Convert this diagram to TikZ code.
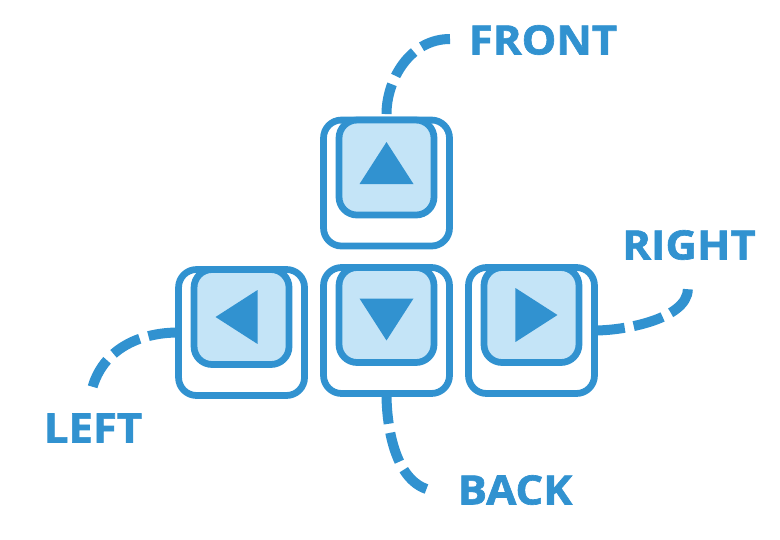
\documentclass[tikz,border=0pt]{standalone}
\usepackage{fontspec}
\newfontfamily\keyfont[FakeBold=1.6, FakeStretch=1.08]{Open Sans Bold}
\usetikzlibrary{
    positioning,
    shapes.geometric
}
\definecolor{keyblue}{RGB}{49,146,208}
\definecolor{capblue}{RGB}{196,228,247}
\tikzset{
    keybase/.style={
        rectangle,
        draw=keyblue,
        line width=0.135cm,
        rounded corners=0.36cm,
        fill=white,
        outer sep=0pt,
        minimum width=2.52cm,
        minimum height=2.52cm
    },
    keycap/.style={
        keybase,
        fill=capblue,
        anchor=north,
        minimum width=1.9cm,
        minimum height=1.9cm
    },
    keyarrow/.style={
        isosceles triangle,
        isosceles triangle stretches,
        fill=keyblue,
        inner sep=0pt,
        outer sep=0pt,
        anchor=lower side,
        minimum width=1.08cm,
        minimum height=0.84cm
    },
    keylink/.style={
        draw=keyblue,
        line width=0.2cm,
        dash pattern=on 17.3pt off 5.2pt
    },
    keylabel/.style={
        font=\fontsize{23}{23}\keyfont,
        text=keyblue,
        inner sep=0pt
    }
}
\begin{document}
\begin{tikzpicture}[x=0.02cm, y=-0.02cm, node distance=0.38cm]

\useasboundingbox (0,0) rectangle (780,540);

% --- Keys ---
\node[keybase] (keydown) at (386.5,330.5) {};
\node[keybase, above=0.43cm of keydown] (keyup) {};
\node[keybase, left=of keydown, yshift=-0.04cm] (keyleft) {};
\node[keybase, right=of keydown] (keyright) {};

% --- Labels and free ends ---
\node[keylabel] (front) at (543,40) {FRONT};
\node[keylabel] (right) at (689,245) {RIGHT};
\node[keylabel] (left) at (93,428) {LEFT};
\node[keylabel] (back) at (515,490) {BACK};

\coordinate (frontend) at (450,39);
\coordinate (rightend) at (687,283);
\coordinate (leftend) at (92,389);
\coordinate (backend) at (430,490);

% --- Dashed links ---
\draw[keylink, shorten <=0.12cm] (keyup.north) to[out=90, in=180] (frontend);
\draw[keylink] (keyleft.west) to[out=180, in=75] (leftend);
\draw[keylink] (keyright.east) to[out=0, in=-75, looseness=0.85] (rightend);
\draw[keylink] (keydown.south) to[out=-90, in=167, looseness=0.85] (backend);

% --- Caps ---
\node[keycap] (capup) at (keyup.north) {};
\node[keycap] (capdown) at (keydown.north) {};
\node[keycap] (capleft) at (keyleft.north) {};
\node[keycap] (capright) at (keyright.north) {};

% --- Arrows ---
\node[keyarrow, shape border rotate=90, yshift=-0.33cm] (arrowup) at (capup.center) {};
\node[keyarrow, shape border rotate=-90, yshift=0.33cm] (arrowdown) at (capdown.center) {};
\node[keyarrow, shape border rotate=180, xshift=0.32cm] (arrowleft) at (capleft.center) {};
\node[keyarrow, shape border rotate=0, xshift=-0.32cm] (arrowright) at (capright.center) {};

\end{tikzpicture}
\end{document}
